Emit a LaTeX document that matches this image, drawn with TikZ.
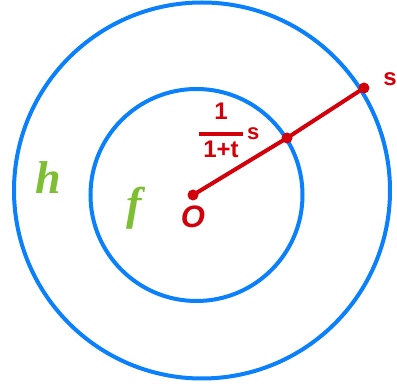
\documentclass[tikz,border=0pt]{standalone}
\usepackage{fontspec}
\setmainfont{Liberation Sans}
\newfontfamily\handfont{Liberation Serif}
\definecolor{cblue}{RGB}{10,128,250}
\definecolor{cred}{RGB}{210,0,10}
\definecolor{cgreen}{RGB}{125,190,50}
\begin{document}
\begin{tikzpicture}[x=1pt,y=-1pt,
  ring/.style={draw=cblue,line width=4pt},
  seg/.style={draw=cred,line width=4pt},
  dot/.style={circle,fill=cred,inner sep=0pt,minimum size=11pt},
  redlbl/.style={text=cred,inner sep=0pt},
  greenlbl/.style={text=cgreen,inner sep=0pt,font=\handfont\bfseries\itshape\fontsize{46}{50}\selectfont}]
\useasboundingbox (0,0) rectangle (397,387);
\fill[white] (0,0) rectangle (397,387);
\draw[ring] (202,190.5) circle (188);
\draw[ring] (196.5,195) circle (106);
\node[dot] (O) at (193,195) {};
\node[dot] (P1) at (287,138) {};
\node[dot] (P2) at (364,88) {};
\draw[seg] (O.center) -- (P1.center) -- (P2.center);
\node[redlbl,font=\fontsize{31}{33}\selectfont\bfseries\itshape] (Olbl) at (193,217) {O};
\node[redlbl,font=\fontsize{24}{26}\selectfont\bfseries] (frac) at (221,133)
  {\setlength{\tabcolsep}{0pt}\renewcommand{\arraystretch}{1}\begin{tabular}{c}1\\[-9pt]\textcolor{cred}{\rule{44pt}{4pt}}\\[-5pt]1+t\end{tabular}};
\node[redlbl,font=\fontsize{22}{24}\selectfont\bfseries,anchor=west] (fs) at (247,134) {s};
\node[redlbl,font=\fontsize{24}{26}\selectfont\bfseries,anchor=east] (slbl) at (397,79) {s};
\node[greenlbl] (h) at (48,178) {h};
\node[greenlbl] (f) at (134,208) {f};
\end{tikzpicture}
\end{document}
